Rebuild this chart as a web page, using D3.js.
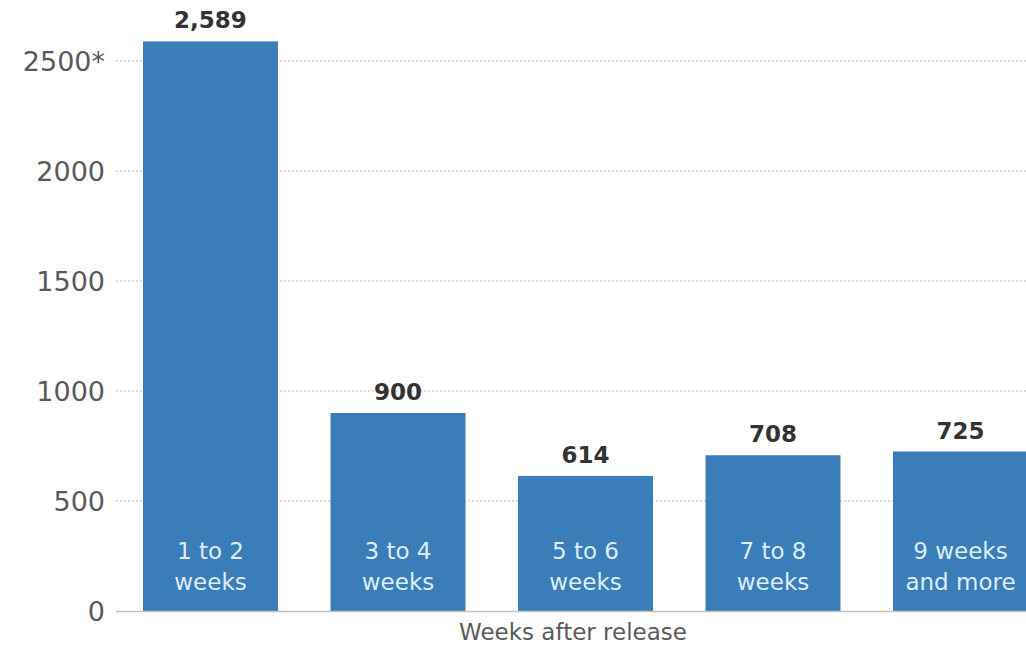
<!DOCTYPE html>
<html>
<head>
<meta charset="utf-8">
<script src="https://cdn.jsdelivr.net/npm/d3@7"></script>
<style>
  html, body { margin: 0; padding: 0; background: #fff; }
  svg { display: block; }
</style>
</head>
<body>
<svg id="chart" width="1026" height="647"></svg>
<script>
// Release-window buckets and their counts
const categories = ["1 to 2|weeks", "3 to 4|weeks", "5 to 6|weeks", "7 to 8|weeks", "9 weeks|and more"];
const values = [2589, 900, 614, 708, 725];
const tickValues = [0, 500, 1000, 1500, 2000, 2500];
const tickLabels = ["0", "500", "1000", "1500", "2000", "2500*"];
const axisTitle = "Weeks after release";

const svg = d3.select("#chart");
const W = 1026, H = 647;

const y = d3.scaleLinear().domain([0, 2500]).range([611, 61]);
const x = d3.scaleBand()
  .domain(categories)
  .range([116.75, 116.75 + 187.5 * 5])
  .paddingInner(0.28)
  .paddingOuter(0.14);

const font = "'DejaVu Sans', Verdana, sans-serif";

// dotted gridlines
svg.append("g")
  .selectAll("line")
  .data(tickValues.filter(d => d > 0))
  .join("line")
  .attr("x1", 116).attr("x2", W)
  .attr("y1", d => y(d)).attr("y2", d => y(d))
  .attr("stroke", "#b8b8b8")
  .attr("stroke-width", 1)
  .attr("stroke-dasharray", "2,2");

// y tick labels
svg.append("g")
  .selectAll("text")
  .data(tickValues)
  .join("text")
  .attr("x", 105)
  .attr("y", d => y(d))
  .attr("dy", "0.36em")
  .attr("text-anchor", "end")
  .attr("font-family", font)
  .attr("font-size", 27)
  .attr("fill", "#5a5a5a")
  .text((d, i) => tickLabels[i]);

// bars
svg.append("g")
  .selectAll("rect")
  .data(values)
  .join("rect")
  .attr("x", (d, i) => x(categories[i]))
  .attr("y", d => y(d))
  .attr("width", x.bandwidth())
  .attr("height", d => y(0) - y(d))
  .attr("fill", "#3a7db8");

// baseline
svg.append("line")
  .attr("x1", 116).attr("x2", W)
  .attr("y1", y(0) + 0.5).attr("y2", y(0) + 0.5)
  .attr("stroke", "#c9c2bd")
  .attr("stroke-width", 1.5);

// value labels above bars
svg.append("g")
  .selectAll("text")
  .data(values)
  .join("text")
  .attr("x", (d, i) => x(categories[i]) + x.bandwidth() / 2)
  .attr("y", d => y(d) - 13)
  .attr("text-anchor", "middle")
  .attr("font-family", font)
  .attr("font-weight", "bold")
  .attr("font-size", 23)
  .attr("fill", "#333")
  .text(d => d3.format(",")(d));

// category labels inside bars
const cat = svg.append("g")
  .selectAll("text")
  .data(categories)
  .join("text")
  .attr("text-anchor", "middle")
  .attr("font-family", font)
  .attr("font-size", 23)
  .attr("fill", "#dcebf7");
cat.each(function(d) {
  const lines = d.split("|");
  const cx = x(d) + x.bandwidth() / 2;
  d3.select(this).selectAll("tspan")
    .data(lines)
    .join("tspan")
    .attr("x", cx)
    .attr("y", (l, j) => 559 + j * 31)
    .text(l => l);
});

// axis title
svg.append("text")
  .attr("x", 573)
  .attr("y", 640)
  .attr("text-anchor", "middle")
  .attr("font-family", font)
  .attr("font-size", 23)
  .attr("fill", "#5a5a5a")
  .text(axisTitle);
</script>
</body>
</html>
